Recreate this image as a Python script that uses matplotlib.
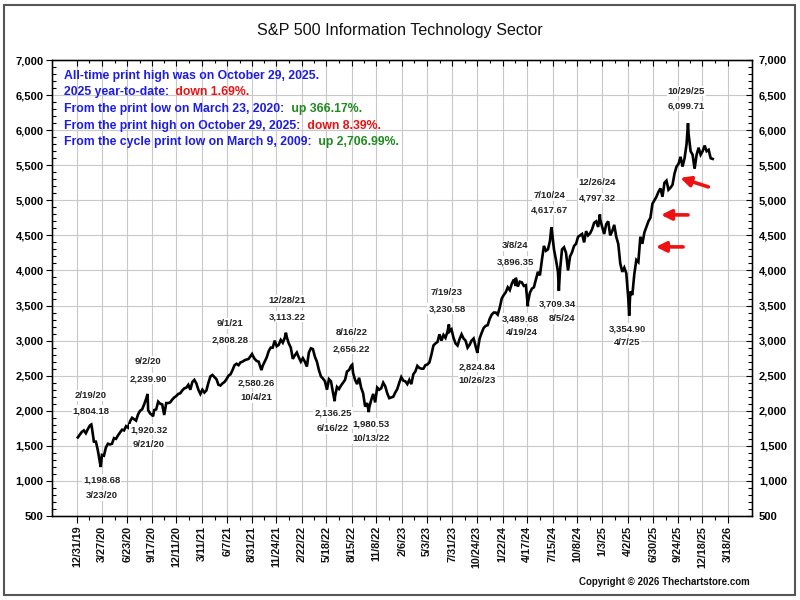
import pandas as pd
import matplotlib
matplotlib.use("Agg")
import matplotlib.pyplot as plt
import matplotlib.dates as mdates
from matplotlib.ticker import MultipleLocator, FuncFormatter, FixedLocator
from matplotlib.patches import Rectangle

# ---------------- data (weekly closes) ----------------
close_2020 = [1620, 1660, 1700, 1720, 1680,
              1740, 1790, 1760, 1560,
              1560, 1430, 1260, 1370,
              1360, 1480, 1530, 1520,
              1530, 1610, 1600, 1650, 1690,
              1730, 1720, 1780, 1760,
              1850, 1900, 1880, 1860, 1950,
              2000, 2020, 2090, 2170,
              2010, 1960, 1940, 2010,
              2020, 2130, 2100, 2090, 1940,
              2110, 2110, 2120, 2160,
              2190, 2210, 2240, 2250]
close_2021 = [2290, 2320, 2330, 2370, 2300,
              2410, 2440, 2390, 2300,
              2240, 2300, 2260, 2290,
              2400, 2490, 2510, 2480, 2450,
              2370, 2360, 2390, 2410,
              2450, 2500, 2520, 2580,
              2650, 2670, 2650, 2690, 2700,
              2720, 2730, 2740, 2780,
              2790, 2740, 2710, 2700,
              2610, 2640, 2700, 2760, 2850,
              2900, 2900, 3000, 2920,
              2940, 3010, 2970, 3040, 3050]
close_2022 = [2960, 2900, 2740, 2790,
              2830, 2760, 2700, 2750,
              2700, 2630, 2830, 2890,
              2880, 2770, 2700, 2580, 2490,
              2460, 2420, 2300, 2450,
              2420, 2260, 2200, 2340,
              2310, 2360, 2400, 2440, 2560,
              2580, 2640, 2540, 2440,
              2380, 2470, 2330, 2250, 2060,
              2110, 2040, 2150, 2240,
              2120, 2330, 2300, 2320,
              2400, 2350, 2250, 2180, 2190]
close_2023 = [2200, 2260, 2310, 2400,
              2480, 2430, 2420, 2380,
              2440, 2380, 2520, 2560, 2640,
              2610, 2600, 2600, 2650,
              2660, 2690, 2800, 2930,
              2960, 2980, 3090, 3000, 3080,
              3040, 3130, 3130, 3160,
              3040, 2960, 2930, 3020,
              3090, 3030, 3000, 2900, 2940,
              3000, 3030, 2920, 2860,
              3030, 3110, 3180, 3210,
              3220, 3310, 3370, 3400, 3400]
close_2024 = [3370, 3470, 3600, 3650,
              3690, 3760, 3720, 3810,
              3870, 3780, 3770, 3840, 3830,
              3780, 3790, 3540, 3680,
              3740, 3760, 3870, 3980, 3930,
              4150, 4350, 4280, 4300,
              4420, 4560, 4300, 4150,
              3980, 4000, 4300, 4330, 4250,
              4000, 4200, 4260, 4350,
              4380, 4480, 4500, 4520,
              4400, 4560, 4500, 4530, 4590,
              4680, 4700, 4620, 4730]
close_2025 = [4620, 4520, 4660, 4700, 4500,
              4560, 4650, 4480, 4380,
              4100, 3980, 4040, 3960,
              3600, 3700, 3650, 3950,
              4150, 4120, 4480, 4380, 4540,
              4620, 4700, 4750, 4950,
              5000, 5050, 5120, 5170,
              5050, 5250, 5280, 5150, 5180,
              5220, 5380, 5480, 5520,
              5620, 5480, 5600, 5800, 5950,
              5700, 5650, 5450, 5650,
              5750, 5650, 5700, 5780]
close_2026 = [5700, 5720, 5600, 5590]

# labelled pivot highs / lows
pivot_dates = ["2020-02-19", "2020-03-23", "2020-09-02", "2020-09-21",
               "2021-09-01", "2021-10-04", "2021-12-28", "2022-06-16",
               "2022-08-16", "2022-10-13", "2023-07-19", "2023-10-26",
               "2024-03-08", "2024-04-19", "2024-07-10", "2024-08-05",
               "2024-12-26", "2025-04-07", "2025-10-29"]
pivot_values = [1804.18, 1198.68, 2239.90, 1920.32,
                2808.28, 2580.26, 3113.22, 2136.25,
                2656.22, 1980.53, 3230.58, 2824.84,
                3896.35, 3489.68, 4617.67, 3709.34,
                4797.32, 3354.90, 6099.71]

tick_dates = ["2019-12-31", "2020-03-27", "2020-06-23", "2020-09-17",
              "2020-12-11", "2021-03-11", "2021-06-07", "2021-08-31",
              "2021-11-24", "2022-02-22", "2022-05-18", "2022-08-15",
              "2022-11-08", "2023-02-06", "2023-05-03", "2023-07-31",
              "2023-10-24", "2024-01-22", "2024-04-17", "2024-07-15",
              "2024-10-08", "2025-01-03", "2025-04-02", "2025-06-30",
              "2025-09-24", "2025-12-18", "2026-03-18"]

title = "S&P 500 Information Technology Sector"
info_lines = [
    ("All-time print high was on October 29, 2025.", "", None),
    ("2025 year-to-date: ", " down 1.69%.", "red"),
    ("From the print low on March 23, 2020: ", " up 366.17%.", "green"),
    ("From the print high on October 29, 2025: ", " down 8.39%.", "red"),
    ("From the cycle print low on March 9, 2009: ", " up 2,706.99%.", "green"),
]
copyright_text = "Copyright \u00a9 2026 Thechartstore.com"

# ---------------- build series ----------------
parts = []
for yr, vals in [(2020, close_2020), (2021, close_2021), (2022, close_2022),
                 (2023, close_2023), (2024, close_2024), (2025, close_2025),
                 (2026, close_2026)]:
    d = pd.date_range(f"{yr}-01-01", f"{yr}-12-31", freq="W-FRI")[:len(vals)]
    parts.append(pd.Series(vals[:len(d)], index=d))
weekly = pd.concat(parts)
pivots = pd.Series(pivot_values, index=pd.to_datetime(pivot_dates))
series = pd.concat([weekly, pivots]).sort_index()

# ---------------- figure ----------------
BLUE = "#1c1ce6"
RED = "#ee1111"
GREEN = "#1f8a1f"
plt.rcParams["font.family"] = ["Liberation Sans", "DejaVu Sans"]

fig = plt.figure(figsize=(8, 6), dpi=100)
fig.patches.append(Rectangle((4 / 800, 5 / 600), 791 / 800, 590 / 600,
                             transform=fig.transFigure, fill=False,
                             ec="#555555", lw=1.5))

ax = fig.add_axes([52 / 800, 1 - 516 / 600, 700 / 800, 456 / 600])
ax.plot(series.index, series.values, color="black", lw=1.9, zorder=3,
        solid_joinstyle="miter")

ax.set_ylim(500, 7000)
ax.set_xlim(pd.Timestamp("2019-10-05"), pd.Timestamp("2026-06-09"))

tick_ts = pd.to_datetime(tick_dates)
tn = mdates.date2num(tick_ts)
minor_tn = [(a + b) / 2 for a, b in zip(tn[:-1], tn[1:])]
ax.xaxis.set_major_locator(FixedLocator(tn))
ax.set_xticklabels([f"{t.month}/{t.day}/{t:%y}" for t in tick_ts],
                   rotation=90, fontsize=7.8, color="#111111")
ax.xaxis.set_minor_locator(FixedLocator(minor_tn))
ax.tick_params(axis="x", which="major", direction="out", length=5, width=0.8, pad=2)
ax.tick_params(axis="x", which="minor", direction="out", length=3, width=0.8)

fmt = FuncFormatter(lambda v, p: f"{v:,.0f}")
ax.yaxis.set_major_locator(MultipleLocator(500))
ax.yaxis.set_minor_locator(MultipleLocator(100))
ax.yaxis.set_major_formatter(fmt)
ax.tick_params(axis="y", which="major", direction="out", length=4, width=0.8,
               labelsize=8, pad=2)
ax.tick_params(axis="y", which="minor", direction="in", length=3, width=0.8)
for lab in ax.get_yticklabels():
    lab.set_fontweight("bold")
for lab in ax.get_xticklabels():
    lab.set_fontweight("bold")

ax.grid(True, which="major", color="#c8c8c8", lw=0.8, zorder=0)
ax.set_axisbelow(True)
for sp in ax.spines.values():
    sp.set_color("black")
    sp.set_linewidth(1.0)

# right axis
ax2 = ax.twinx()
ax2.set_ylim(500, 7000)
ax2.yaxis.set_major_locator(MultipleLocator(500))
ax2.yaxis.set_minor_locator(MultipleLocator(100))
ax2.yaxis.set_major_formatter(fmt)
ax2.tick_params(axis="y", which="major", direction="in", length=4, width=0.8,
                labelsize=8, pad=5)
ax2.tick_params(axis="y", which="minor", direction="in", length=3, width=0.8)
for lab in ax2.get_yticklabels():
    lab.set_fontweight("bold")

# top ticks
ax3 = ax.twiny()
ax3.set_xlim(ax.get_xlim())
ax3.xaxis.set_major_locator(FixedLocator(tn))
ax3.xaxis.set_minor_locator(FixedLocator(minor_tn))
ax3.tick_params(axis="x", which="major", direction="in", length=4, width=0.8, labeltop=False)
ax3.tick_params(axis="x", which="minor", direction="in", length=2.5, width=0.8)

# ---------------- pivot annotations ----------------
labels = [
    ("2/19/20", "2020-02-18", 2214), ("1,804.18", "2020-02-18", 2000),
    ("1,198.68", "2020-03-27", 1017), ("3/23/20", "2020-03-27", 789),
    ("9/2/20", "2020-09-03", 2698), ("2,239.90", "2020-09-03", 2456),
    ("1,920.32", "2020-09-07", 1729), ("9/21/20", "2020-09-07", 1516),
    ("9/1/21", "2021-06-16", 3239), ("2,808.28", "2021-06-16", 3011),
    ("2,580.26", "2021-09-15", 2399), ("10/4/21", "2021-09-15", 2185),
    ("12/28/21", "2022-01-01", 3567), ("3,113.22", "2022-01-01", 3339),
    ("8/16/22", "2022-08-13", 3111), ("2,656.22", "2022-08-13", 2883),
    ("2,136.25", "2022-06-10", 1972), ("6/16/22", "2022-06-10", 1744),
    ("1,980.53", "2022-10-21", 1815), ("10/13/22", "2022-10-21", 1601),
    ("7/19/23", "2023-07-12", 3681), ("3,230.58", "2023-07-12", 3453),
    ("2,824.84", "2023-10-25", 2627), ("10/26/23", "2023-10-25", 2427),
    ("3/8/24", "2024-03-05", 4350), ("3,896.35", "2024-03-05", 4123),
    ("3,489.68", "2024-03-25", 3311), ("4/19/24", "2024-03-30", 3111),
    ("8/5/24", "2024-08-17", 3311), ("3,709.34", "2024-07-29", 3524),
    ("7/10/24", "2024-07-02", 5063), ("4,617.67", "2024-07-02", 4863),
    ("12/26/24", "2024-12-16", 5248), ("4,797.32", "2024-12-16", 5034),
    ("3,354.90", "2025-03-30", 3168), ("4/7/25", "2025-03-30", 2969),
    ("10/29/25", "2025-10-23", 6558), ("6,099.71", "2025-10-23", 6345),
]
for txt, d, v in labels:
    ax.text(pd.Timestamp(d), v, txt, ha="center", va="center",
            fontsize=6.8, fontweight="bold", color="#222222", zorder=5,
            bbox=dict(fc="white", ec="none", pad=0.6))

# red arrows
arrows = [(("2026-01-08", 5191), ("2025-10-02", 5319)),
          (("2025-10-29", 4792), ("2025-07-27", 4792)),
          (("2025-10-12", 4336), ("2025-07-09", 4336))]
for (td, tv), (hd, hv) in arrows:
    ax.annotate("", xy=(pd.Timestamp(hd), hv), xytext=(pd.Timestamp(td), tv),
                arrowprops=dict(arrowstyle="-|>", color="#ee1111", lw=2.6,
                                mutation_scale=15, shrinkA=0, shrinkB=0),
                zorder=6)

# ---------------- info text ----------------
y0 = 1 - 75.7 / 600
dy = 16.7 / 600
for i, (main, extra, col) in enumerate(info_lines):
    t = fig.text(64 / 800, y0 - i * dy, main, ha="left", va="center",
                 fontsize=8.8, fontweight="bold", color=BLUE, zorder=10)
    if extra:
        c = RED if col == "red" else GREEN
        ax.annotate(extra, xy=(1, 0), xycoords=t, ha="left", va="bottom",
                    fontsize=8.8, fontweight="bold", color=c,
                    annotation_clip=False, zorder=10)

fig.text(0.5, 1 - 30 / 600, title, ha="center", va="center", fontsize=11.6,
         color="#111111")
fig.text(750 / 800, 1 - 582 / 600, copyright_text, ha="right", va="center",
         fontsize=7, fontweight="bold", color="#111111")

fig.savefig("out.png", dpi=100)
